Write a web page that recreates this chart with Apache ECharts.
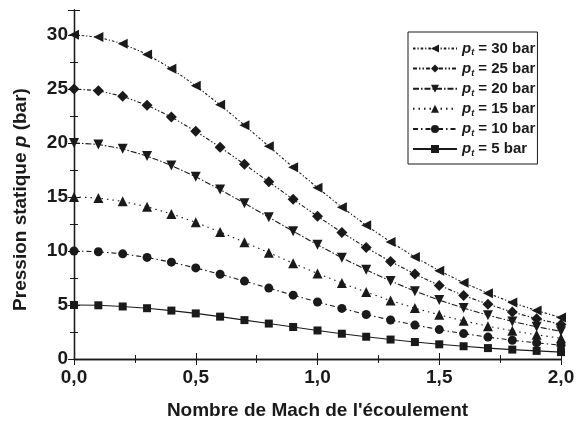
<!DOCTYPE html>
<html>
<head>
<meta charset="utf-8">
<script src="https://cdn.jsdelivr.net/npm/echarts@6/dist/echarts.min.js"></script>
<style>
  html, body { margin: 0; padding: 0; background: #fff; }
  #chart { width: 576px; height: 421px; }
</style>
</head>
<body>
<div id="chart"></div>
<script>
// Mach numbers (x)
var machValues = [0, 0.1, 0.2, 0.3, 0.4, 0.5, 0.6, 0.7, 0.8, 0.9, 1.0,
                  1.1, 1.2, 1.3, 1.4, 1.5, 1.6, 1.7, 1.8, 1.9, 2.0];

// static pressure for each total pressure
var p30 = [30.0, 29.79, 29.18, 28.19, 26.87, 25.29, 23.52, 21.63, 19.68, 17.74, 15.85,
           14.05, 12.37, 10.83, 9.43, 8.17, 7.06, 6.08, 5.22, 4.48, 3.83];
var p25 = [25.0, 24.83, 24.31, 23.49, 22.39, 21.08, 19.60, 18.02, 16.40, 14.78, 13.21,
           11.71, 10.31, 9.02, 7.86, 6.81, 5.88, 5.07, 4.35, 3.73, 3.20];
var p20 = [20.0, 19.86, 19.45, 18.79, 17.91, 16.86, 15.68, 14.42, 13.12, 11.83, 10.57,
           9.37, 8.25, 7.22, 6.28, 5.45, 4.71, 4.05, 3.48, 2.98, 2.56];
var p15 = [15.0, 14.90, 14.59, 14.09, 13.43, 12.65, 11.76, 10.81, 9.84, 8.87, 7.92,
           7.03, 6.19, 5.41, 4.71, 4.09, 3.53, 3.04, 2.61, 2.24, 1.92];
var p10 = [10.0, 9.93, 9.73, 9.40, 8.96, 8.43, 7.84, 7.21, 6.56, 5.91, 5.28,
           4.68, 4.12, 3.61, 3.14, 2.72, 2.35, 2.03, 1.74, 1.49, 1.28];
var p5  = [5.00, 4.97, 4.86, 4.70, 4.48, 4.22, 3.92, 3.60, 3.28, 2.96, 2.64,
           2.34, 2.06, 1.80, 1.57, 1.36, 1.18, 1.01, 0.87, 0.75, 0.64];

var seriesNames = ['30 bar', '25 bar', '20 bar', '15 bar', '10 bar', '5 bar'];
var seriesValues = [p30, p25, p20, p15, p10, p5];
var symbols = ['triangle', 'diamond', 'triangle', 'triangle', 'circle', 'rect'];
var symbolRotates = [90, 0, 180, 0, 0, 0];
var symbolSizes = [10, 11, 10, 10, 9, 8];
var dashes = [[2.5, 2, 1.2, 2], [4, 2, 1.5, 2, 1.5, 2], [6, 2, 1.5, 2], [1.5, 4], [5, 3, 1.5, 3], 'solid'];

var ink = '#1a1a1a';
var fontFam = '"Liberation Sans", Arial, sans-serif';

var chart = echarts.init(document.getElementById('chart'));

var series = seriesNames.map(function(name, i) {
    return {
        name: name,
        type: 'line',
        clip: false,
        data: machValues.map(function(m, j) { return [m, seriesValues[i][j]]; }),
        symbol: symbols[i],
        symbolRotate: symbolRotates[i],
        symbolSize: symbolSizes[i],
        showAllSymbol: true,
        itemStyle: { color: ink },
        lineStyle: { color: ink, width: 1.1, type: dashes[i] }
    };
});

function baseAxis() {
    return {
        axisLine: { show: true, lineStyle: { color: ink, width: 1.3 } },
        axisTick: { show: true, inside: true, length: 6, lineStyle: { color: ink } },
        minorTick: { show: true, splitNumber: 2, length: 4, lineStyle: { color: ink } },
        splitLine: { show: false },
        minorSplitLine: { show: false }
    };
}

var xBottom = Object.assign(baseAxis(), {
    type: 'value', min: 0, max: 2, interval: 0.5, position: 'bottom',
    name: "Nombre de Mach de l'écoulement",
    nameLocation: 'middle', nameGap: 42,
    nameTextStyle: { fontFamily: fontFam, fontWeight: 'bold', fontSize: 19, color: ink },
    axisLabel: {
        margin: 9, fontFamily: fontFam, fontWeight: 'bold', fontSize: 19, color: ink,
        formatter: function(v) { return v.toFixed(1).replace('.', ','); }
    }
});
var xTop = Object.assign(baseAxis(), {
    type: 'value', min: 0, max: 2, interval: 0.5, position: 'top',
    axisLabel: { show: false }
});
var yLeft = Object.assign(baseAxis(), {
    type: 'value', min: 0, max: 32.3, interval: 5, position: 'left',
    name: '{a|Pression statique }{i|p}{a| (bar)}',
    nameLocation: 'middle', nameGap: 44,
    nameTextStyle: {
        padding: [0, 30, 0, 0],
        rich: {
            a: { fontFamily: fontFam, fontWeight: 'bold', fontSize: 19, color: ink },
            i: { fontFamily: fontFam, fontWeight: 'bold', fontStyle: 'italic', fontSize: 19, color: ink }
        }
    },
    axisLabel: {
        margin: 6, fontFamily: fontFam, fontWeight: 'bold', fontSize: 19, color: ink,
        showMaxLabel: false,
        formatter: function(v) { return v % 5 === 0 ? String(v) : ''; }
    }
});
var yRight = Object.assign(baseAxis(), {
    type: 'value', min: 0, max: 32.3, interval: 5, position: 'right',
    axisLabel: { show: false }
});

var option = {
    backgroundColor: '#fff',
    animation: false,
    grid: { left: 74, right: 15, top: 10, bottom: 62, outerBoundsMode: 'none' },
    xAxis: [xBottom, xTop],
    yAxis: [yLeft, yRight],
    legend: {
        orient: 'vertical',
        left: 408, top: 32,
        data: seriesNames,
        itemWidth: 44, itemHeight: 10, itemGap: 3.6,
        itemStyle: {},
        padding: [9, 2, 6, 4],
        borderColor: ink, borderWidth: 1,
        formatter: function(name) { return '{p|p}{t|t}{b| = ' + name + '}'; },
        textStyle: {
            color: ink,
            rich: {
                p: { fontFamily: fontFam, fontWeight: 'bold', fontStyle: 'italic', fontSize: 15, color: ink },
                t: { fontFamily: fontFam, fontWeight: 'bold', fontStyle: 'italic', fontSize: 9, color: ink, padding: [9, 0, 0, 0] },
                b: { fontFamily: fontFam, fontWeight: 'bold', fontSize: 15, color: ink }
            }
        }
    },
    series: series
};

chart.setOption(option);
</script>
</body>
</html>
